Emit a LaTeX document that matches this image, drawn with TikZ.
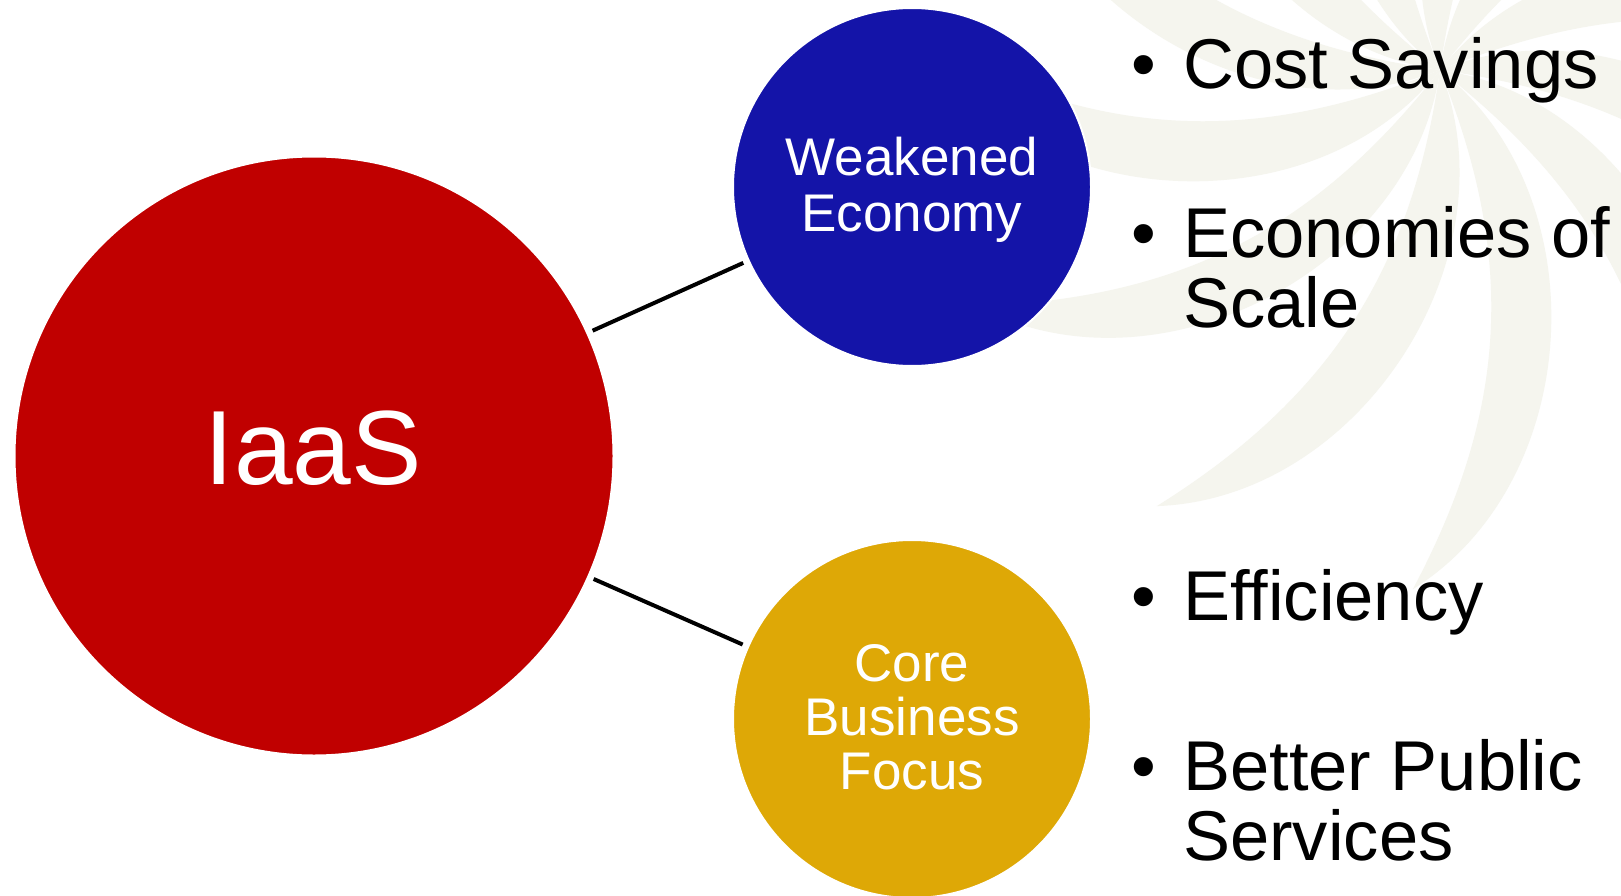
\documentclass[tikz,border=0pt]{standalone}
\usepackage{fontspec}
\setmainfont{Liberation Sans}
\definecolor{iaasred}{HTML}{C00000}
\definecolor{econblue}{HTML}{1414A8}
\definecolor{coregold}{HTML}{DEA806}
\definecolor{petalbeige}{HTML}{F5F5EE}
\tikzset{
  bubble/.style={circle, draw=white, line width=2pt, inner sep=0pt, outer sep=0pt},
  bubbletext/.style={text=white, inner sep=0pt, anchor=base, font=\fontsize{53}{55}\selectfont},
  bigtext/.style={text=white, inner sep=0pt, anchor=base, font=\fontsize{105.5}{110}\selectfont},
  bullettext/.style={text=black, inner sep=0pt, anchor=base west, font=\fontsize{70.5}{70}\selectfont},
  link/.style={draw=black, line width=4pt, shorten >=6pt, shorten <=6pt},
  petal/.style={fill=petalbeige, draw=none}
}
\begin{document}
\begin{tikzpicture}[x=1pt, y=-1pt]
\useasboundingbox (0,0) rectangle (1621,896);
\fill[white] (0,0) rectangle (1621,896);
% faint decorative pinwheel in the background
\begin{scope}
  \clip (0,0) rectangle (1621,896);
  \foreach \a in {147,177,...,477} {
    \begin{scope}[shift={(1440,70)}, rotate=\a]
      \fill[petal] (0,0) to[bend left=55] (520,0) to[bend right=25] (0,0);
    \end{scope}
  }
\end{scope}
% circles
\node[bubble, fill=iaasred, minimum size=599pt] (iaas) at (314,456) {};
\node[bubble, fill=econblue, minimum size=358pt] (econ) at (912,187) {};
\node[bubble, fill=coregold, minimum size=358pt] (core) at (912,719) {};
% connectors
\draw[link] (iaas) -- (econ);
\draw[link] (iaas) -- (core);
% circle texts
\node[bigtext] (tiaas) at (313.5,484) {IaaS};
\node[bubbletext] (tw) at (912,176) {Weakened};
\node[bubbletext] (te) at (912,231) {Economy};
\node[bubbletext] (tc) at (912,681) {Core};
\node[bubbletext] (tb) at (912,735) {Business};
\node[bubbletext] (tf) at (912,789.5) {Focus};
% bullet lists
\node[bullettext] (b1) at (1131,89) {•};
\node[bullettext] (l1) at (1183,89) {Cost Savings};
\node[bullettext] (b2) at (1131,257) {•};
\node[bullettext] (l2) at (1183,257) {Economies of};
\node[bullettext] (l2b) at (1183,327) {Scale};
\node[bullettext] (b3) at (1131,620) {•};
\node[bullettext] (l3) at (1183,620) {Efficiency};
\node[bullettext] (b4) at (1131,790) {•};
\node[bullettext] (l4) at (1183,790) {Better Public};
\node[bullettext] (l4b) at (1183,860) {Services};
\end{tikzpicture}
\end{document}
